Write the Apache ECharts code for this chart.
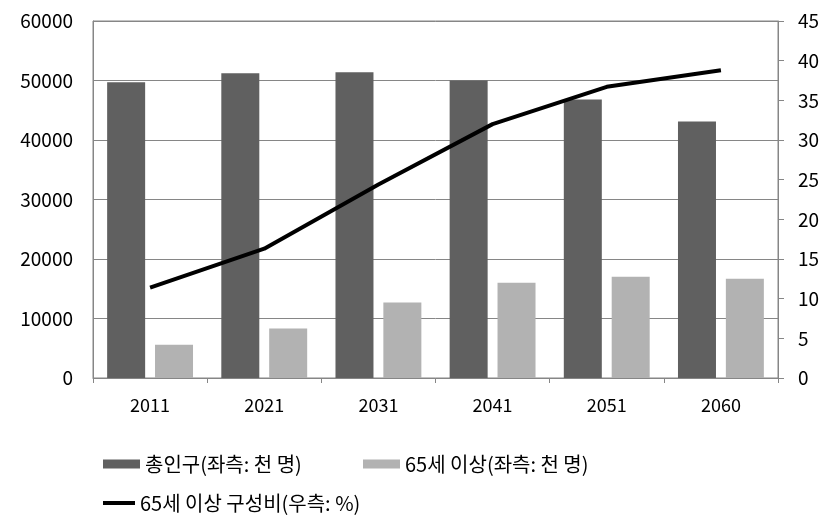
<!DOCTYPE html>
<html>
<head>
<meta charset="utf-8">
<script src="https://cdn.jsdelivr.net/npm/echarts@6/dist/echarts.min.js"></script>
<style>
html,body{margin:0;padding:0;background:#fff;}
#chart{width:834px;height:524px;}
</style>
</head>
<body>
<div id="chart"></div>
<script>
const categories = ['2011', '2021', '2031', '2041', '2051', '2060'];
const totalPop = [49700, 51200, 51400, 50000, 46800, 43100];
const elderlyPop = [5600, 8300, 12700, 16000, 17000, 16700];
const elderlyRatio = [11.4, 16.3, 24.4, 32.0, 36.7, 38.8];
const leftTicks = { min: 0, max: 60000, interval: 10000 };
const rightTicks = { min: 0, max: 45, interval: 5 };
const names = ['총인구(좌측: 천 명)', '65세 이상(좌측: 천 명)', '65세 이상 구성비(우측: %)'];

const FONT = '"Noto Sans CJK KR", "Noto Sans", sans-serif';
const chart = echarts.init(document.getElementById('chart'), null, { renderer: 'canvas' });
const legendText = { color: '#000', fontSize: 20, fontFamily: FONT, lineHeight: 24 };
chart.setOption({
  animation: false,
  backgroundColor: '#fff',
  grid: { left: 93, right: 56, top: 21, bottom: 146, containLabel: false,
          show: true, borderColor: '#868686', borderWidth: 1 },
  legend: [
    { left: 103, top: 452, padding: 0, itemWidth: 37, itemHeight: 9, itemGap: 0, textStyle: legendText,
      data: [{ name: names[0], icon: 'rect' }] },
    { left: 363, top: 452, padding: 0, itemWidth: 37, itemHeight: 9, itemGap: 0, textStyle: legendText,
      data: [{ name: names[1], icon: 'rect' }] },
    { left: 103, top: 491, padding: 0, itemWidth: 32, itemHeight: 4, itemGap: 0, textStyle: legendText,
      data: [{ name: names[2], icon: 'rect', itemStyle: { color: '#000' } }] }
  ],
  xAxis: {
    type: 'category', data: categories, boundaryGap: true,
    axisLine: { show: true, lineStyle: { color: '#868686', width: 1 } },
    axisTick: { show: true, length: 5, lineStyle: { color: '#868686' } },
    axisLabel: { color: '#000', fontSize: 18, fontFamily: FONT, margin: 18 }
  },
  yAxis: [
    { type: 'value', min: leftTicks.min, max: leftTicks.max, interval: leftTicks.interval, position: 'left',
      axisLine: { show: true, lineStyle: { color: '#868686' } },
      axisTick: { show: false },
      splitLine: { show: true, lineStyle: { color: '#868686', width: 1 } },
      axisLabel: { color: '#000', fontSize: 19, fontFamily: FONT, margin: 20, formatter: v => String(v) } },
    { type: 'value', min: rightTicks.min, max: rightTicks.max, interval: rightTicks.interval, position: 'right',
      axisLine: { show: true, lineStyle: { color: '#868686' } },
      axisTick: { show: true, length: 6, lineStyle: { color: '#868686' } },
      splitLine: { show: false },
      axisLabel: { color: '#000', fontSize: 19, fontFamily: FONT, margin: 20 } }
  ],
  series: [
    { name: names[0], type: 'bar', yAxisIndex: 0, data: totalPop, barWidth: 38, barGap: '26%',
      itemStyle: { color: '#606060' } },
    { name: names[1], type: 'bar', yAxisIndex: 0, data: elderlyPop, barWidth: 38, barGap: '26%',
      itemStyle: { color: '#b2b2b2' } },
    { name: names[2], type: 'line', yAxisIndex: 1, data: elderlyRatio, symbol: 'none',
      lineStyle: { color: '#000', width: 4 }, itemStyle: { color: '#000' }, z: 5 }
  ]
});
</script>
</body>
</html>
